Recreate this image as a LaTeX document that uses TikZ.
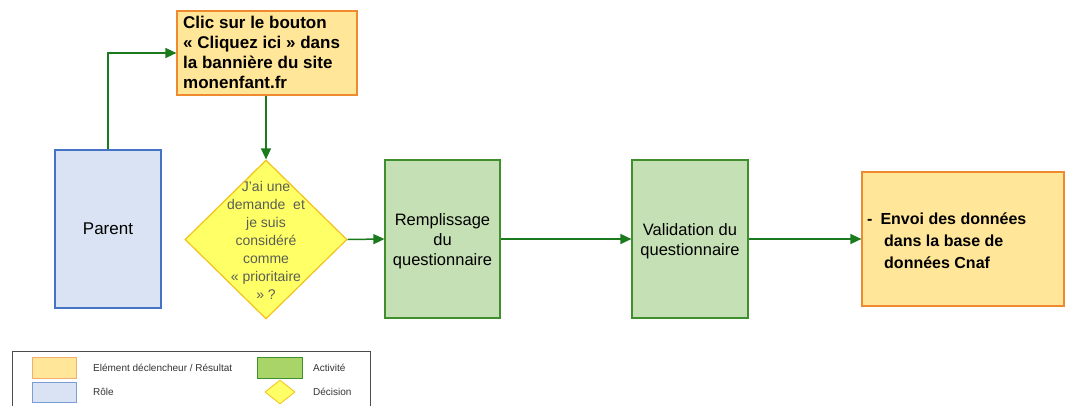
\documentclass[tikz,border=0pt]{standalone}
\usepackage{fontspec}
\setmainfont{Liberation Sans}
\usetikzlibrary{shapes.geometric,arrows.meta}
\definecolor{orfill}{HTML}{FFE699}
\definecolor{ordraw}{HTML}{ED8B2E}
\definecolor{blfill}{HTML}{DAE3F3}
\definecolor{bldraw}{HTML}{4472C4}
\definecolor{grfill}{HTML}{C5E0B4}
\definecolor{grdraw}{HTML}{3F8F2F}
\definecolor{yefill}{HTML}{FFFF66}
\definecolor{yedraw}{HTML}{F2C21B}
\definecolor{arr}{HTML}{1B7A1B}
\definecolor{dgray}{HTML}{5A5E55}
\definecolor{lggreen}{HTML}{A9D468}
\tikzset{
  trig/.style={draw=ordraw,fill=orfill,line width=1.2pt,rectangle,inner sep=0pt},
  role/.style={draw=bldraw,fill=blfill,line width=1.2pt,rectangle,inner sep=0pt},
  act/.style={draw=grdraw,fill=grfill,line width=1.2pt,rectangle,inner sep=0pt},
  dec/.style={draw=yedraw,fill=yefill,line width=1.2pt,diamond,inner sep=0pt},
  conn/.style={draw=arr,line width=1.5pt,-{Triangle[length=11pt,width=10pt]}},
  lgtext/.style={anchor=west,font=\fontsize{10}{12}\selectfont,text=black!80,inner sep=0pt},
  acttext/.style={align=center,inner sep=0pt,font=\fontsize{16.5}{20}\selectfont},
}
\begin{document}
\begin{tikzpicture}[x=1pt,y=-1pt]
\useasboundingbox (0,0) rectangle (1066,405);
% nodes
\node[trig,minimum width=180pt,minimum height=84pt] (clic) at (267,53) {};
\node[anchor=north west,align=left,inner sep=0pt,font=\bfseries\fontsize{17}{20}\selectfont] at (183,15.5) {Clic sur le bouton\\« Cliquez ici » dans\\la bannière du site\\monenfant.fr};
\node[role,minimum width=106pt,minimum height=158pt,font=\fontsize{17}{20}\selectfont] (parent) at (108,229) {Parent};
\node[dec,minimum width=162pt,minimum height=159pt] (dec) at (266,239.5) {};
\node[align=center,font=\fontsize{14}{18}\selectfont,text=dgray,inner sep=0pt] at (266,240) {J’ai une\\demande~ et\\je suis\\considéré\\comme\\« prioritaire\\» ?};
\node[act,minimum width=115pt,minimum height=158pt] (rem) at (442.5,239) {};
\node[acttext] at (442.5,241) {Remplissage\\du\\questionnaire};
\node[act,minimum width=116pt,minimum height=158pt] (val) at (690,239) {};
\node[acttext] at (690,241) {Validation du\\questionnaire};
\node[trig,minimum width=202pt,minimum height=134pt] (env) at (963,239) {};
\node[anchor=west,align=left,inner sep=0pt,font=\bfseries\fontsize{16}{22}\selectfont] at (867,241) {-\hspace{8pt}Envoi des données\\\hspace{17pt}dans la base de\\\hspace{17pt}données Cnaf};
% connectors
\coordinate (c1) at (108,53);
\draw[conn] (parent.north) -- (c1) -- (clic.west);
\draw[conn] (dec.north |- clic.south) -- (dec.north);
\draw[conn] (dec.east) -- (rem.west);
\draw[conn] (rem.east) -- (val.west);
\draw[conn] (val.east) -- (env.west);
% legend
\draw[black!70,line width=0.8pt] (12,406) -- (12,351) -- (370,351) -- (370,406);
\node[draw=ordraw!70,fill=orfill,line width=0.8pt,minimum width=44pt,minimum height=21pt,inner sep=0pt] (lg1) at (54,367.5) {};
\node[lgtext] (lt1) at (93,367.5) {Elément déclencheur / Résultat};
\node[draw=grdraw,fill=lggreen,line width=0.8pt,minimum width=45pt,minimum height=21pt,inner sep=0pt] (lg2) at (279.5,367.5) {};
\node[lgtext] (lt2) at (313,367.5) {Activité};
\node[draw=bldraw!70,fill=blfill,line width=0.8pt,minimum width=44pt,minimum height=20pt,inner sep=0pt] (lg3) at (54,392) {};
\node[lgtext] (lt3) at (93,392) {Rôle};
\node[dec,line width=0.8pt,minimum width=30pt,minimum height=24pt] (lg4) at (280,392) {};
\node[lgtext] (lt4) at (313,392) {Décision};
\end{tikzpicture}
\end{document}
